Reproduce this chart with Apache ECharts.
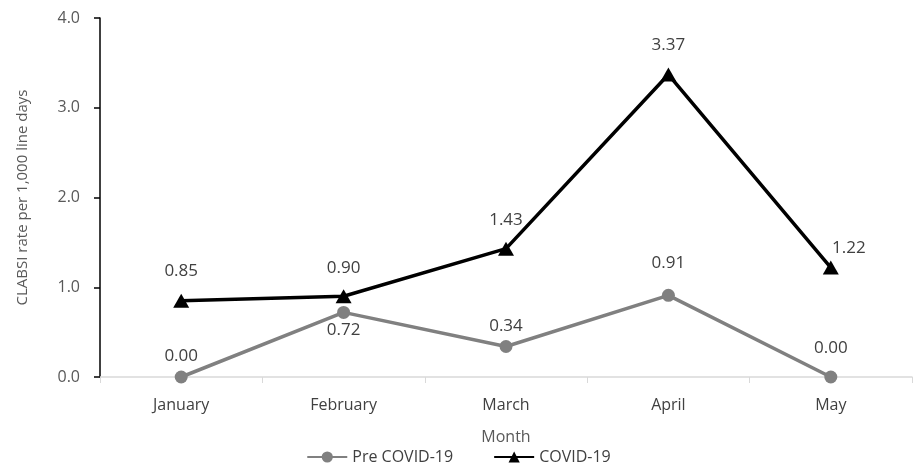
<!DOCTYPE html>
<html>
<head>
<meta charset="utf-8">
<script src="https://cdn.jsdelivr.net/npm/echarts@6/dist/echarts.min.js"></script>
<style>
html,body{margin:0;padding:0;background:#fff;}
#chart{width:917px;height:470px;}
</style>
</head>
<body>
<div id="chart"></div>
<script>
// Monthly CLABSI rates per 1,000 line days
const months = ['January', 'February', 'March', 'April', 'May'];
const preCovid = [0.00, 0.72, 0.34, 0.91, 0.00];
const covid = [0.85, 0.90, 1.43, 3.37, 1.22];
const yTicks = [0, 1, 2, 3, 4];

const font = 'Open Sans, Liberation Sans, sans-serif';
const textColor = '#404040';

// Per-point label placement for each series
const preLabelPos = ['top', 'bottom', 'top', 'top', 'top'];
const preLabelDist = [6, 3, 5, 17, 14];
const covidLabelDist = [14, 13, 13, 14, 4];

const chart = echarts.init(document.getElementById('chart'));
chart.setOption({
  animation: false,
  textStyle: { fontFamily: font },
  grid: { left: 100, right: 5, top: 18, bottom: 93, containLabel: false },
  legend: {
    bottom: 0,
    left: 'center',
    itemWidth: 40,
    itemHeight: 14,
    itemGap: 40,
    textStyle: { fontSize: 16, color: '#404040', fontFamily: font },
    data: ['Pre COVID-19', 'COVID-19']
  },
  xAxis: {
    type: 'category',
    data: months,
    boundaryGap: true,
    name: 'Month',
    nameLocation: 'middle',
    nameGap: 52,
    nameTextStyle: { fontSize: 16, color: '#595959', fontFamily: font },
    axisLine: { lineStyle: { color: '#d9d9d9', width: 1.5 } },
    axisTick: { show: true, length: 6, lineStyle: { color: '#d9d9d9' } },
    axisLabel: { fontSize: 16, color: '#404040', margin: 20, fontFamily: font },
    splitLine: { show: false }
  },
  yAxis: {
    type: 'value',
    min: yTicks[0],
    max: yTicks[yTicks.length - 1],
    interval: 1,
    name: 'CLABSI rate per 1,000 line days',
    nameLocation: 'middle',
    nameGap: 70,
    nameTextStyle: { fontSize: 15, color: '#595959', fontFamily: font },
    axisLine: { show: true, lineStyle: { color: '#000', width: 1.5 } },
    axisTick: { show: true, length: 6, inside: false, lineStyle: { color: '#000', width: 1.5 } },
    axisLabel: {
      fontSize: 16, color: '#595959', margin: 20, fontFamily: font,
      formatter: v => v.toFixed(1)
    },
    splitLine: { show: false }
  },
  series: [
    {
      name: 'Pre COVID-19',
      type: 'line',
      data: preCovid.map((v, i) => ({
        value: v,
        label: { position: preLabelPos[i], distance: preLabelDist[i] }
      })),
      symbol: 'circle',
      symbolSize: 13,
      lineStyle: { color: '#808080', width: 3.5 },
      itemStyle: { color: '#808080' },
      label: {
        show: true, fontSize: 17, color: textColor, fontFamily: font,
        formatter: p => p.value.toFixed(2)
      },
      z: 2
    },
    {
      name: 'COVID-19',
      type: 'line',
      data: covid.map((v, i) => ({
        value: v,
        label: i === 4
          ? { position: 'top', distance: covidLabelDist[i], offset: [18, 0] }
          : { position: 'top', distance: covidLabelDist[i] }
      })),
      symbol: 'triangle',
      symbolSize: [16, 14],
      lineStyle: { color: '#000', width: 3.5 },
      itemStyle: { color: '#000' },
      label: {
        show: true, fontSize: 17, color: textColor, fontFamily: font,
        formatter: p => p.value.toFixed(2)
      },
      z: 3
    }
  ]
});
</script>
</body>
</html>
